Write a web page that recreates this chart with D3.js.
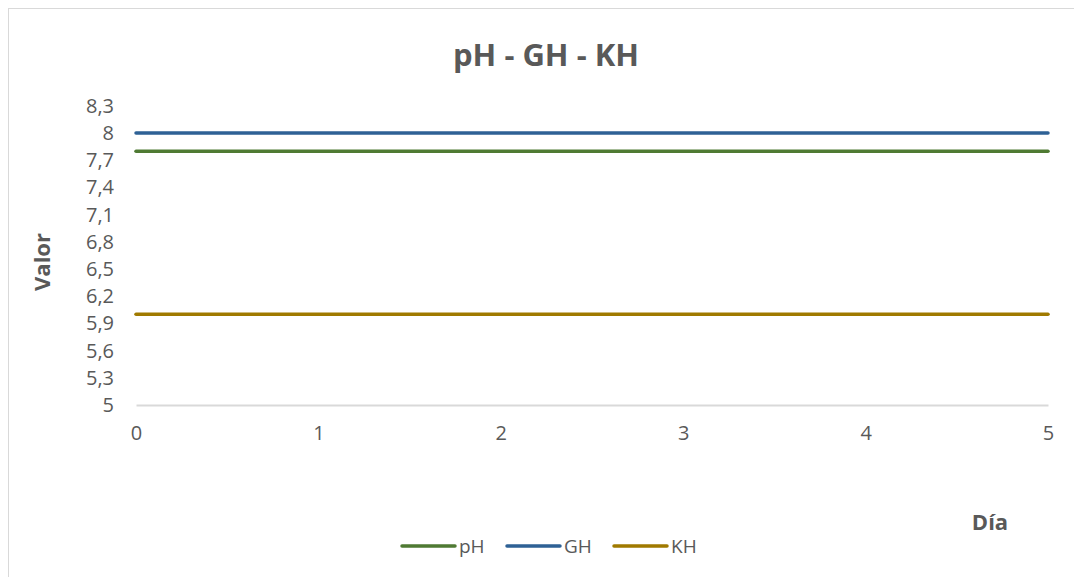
<!DOCTYPE html>
<html>
<head>
<meta charset="utf-8">
<script src="https://cdn.jsdelivr.net/npm/d3@7"></script>
<style>
  body { margin: 0; background: #fff; }
  text { font-family: "Open Sans", "Noto Sans", sans-serif; fill: #595959; }
</style>
</head>
<body>
<div id="chart"></div>
<script>
// data
const days = [0, 1, 2, 3, 4, 5];
const phValues = [7.8, 7.8, 7.8, 7.8, 7.8, 7.8];
const ghValues = [8, 8, 8, 8, 8, 8];
const khValues = [6, 6, 6, 6, 6, 6];
const yTicks = [5, 5.3, 5.6, 5.9, 6.2, 6.5, 6.8, 7.1, 7.4, 7.7, 8, 8.3];
const seriesNames = ["pH", "GH", "KH"];
const seriesColors = ["#4f7a33", "#2e6195", "#a07a00"];

const width = 1074,
  height = 577;

const svg = d3.select("#chart").append("svg")
  .attr("width", width)
  .attr("height", height);

// outer frame of the chart area
svg.append("rect")
  .attr("x", 8.5).attr("y", 8.5)
  .attr("width", width + 10).attr("height", height + 10)
  .attr("fill", "none")
  .attr("stroke", "#d9d9d9");

const x = d3.scaleLinear().domain([0, 5]).range([136, 1048]);
const y = d3.scaleLinear().domain([5, 8]).range([405, 133]);

// title
svg.append("text")
  .attr("x", 546).attr("y", 66)
  .attr("text-anchor", "middle")
  .style("font-size", "31px")
  .style("font-weight", "bold")
  .text("pH - GH - KH");

// y axis (labels only)
const yAxis = svg.append("g")
  .attr("transform", "translate(" + 136 + ",0)")
  .call(d3.axisLeft(y).tickValues(yTicks).tickSize(0).tickPadding(22)
    .tickFormat(d => d3.format(".1~f")(d).replace(".", ",")));
yAxis.select(".domain").remove();
yAxis.selectAll("text").style("font-size", "20px").attr("fill", "#595959");

// x axis
const xAxis = svg.append("g")
  .attr("transform", "translate(0," + 405 + ")")
  .call(d3.axisBottom(x).tickValues(days).tickSize(0).tickPadding(21)
    .tickFormat(d3.format("d")));
xAxis.select(".domain").attr("stroke", "#d9d9d9").attr("stroke-width", 2);
xAxis.selectAll("text").style("font-size", "20px").attr("fill", "#595959");

// axis titles
svg.append("text")
  .attr("transform", "translate(50,262) rotate(-90)")
  .attr("text-anchor", "middle")
  .style("font-size", "22px")
  .style("font-weight", "bold")
  .text("Valor");

svg.append("text")
  .attr("x", 990).attr("y", 530)
  .attr("text-anchor", "middle")
  .style("font-size", "22px")
  .style("font-weight", "bold")
  .text("Día");

// lines
const line = d3.line()
  .x((d, i) => x(days[i]))
  .y(d => y(d));

const allSeries = [phValues, ghValues, khValues];
allSeries.forEach((vals, i) => {
  svg.append("path")
    .datum(vals)
    .attr("d", line)
    .attr("fill", "none")
    .attr("stroke", seriesColors[i])
    .attr("stroke-width", 3.5)
    .attr("stroke-linecap", "round");
});

// legend
const legendX = [402, 507, 614];
const legend = svg.append("g");
seriesNames.forEach((name, i) => {
  legend.append("line")
    .attr("x1", legendX[i]).attr("x2", legendX[i] + 53)
    .attr("y1", 546).attr("y2", 546)
    .attr("stroke", seriesColors[i])
    .attr("stroke-width", 3.5)
    .attr("stroke-linecap", "round");
  legend.append("text")
    .attr("x", legendX[i] + 57).attr("y", 553)
    .style("font-size", "19px")
    .text(name);
});
</script>
</body>
</html>
